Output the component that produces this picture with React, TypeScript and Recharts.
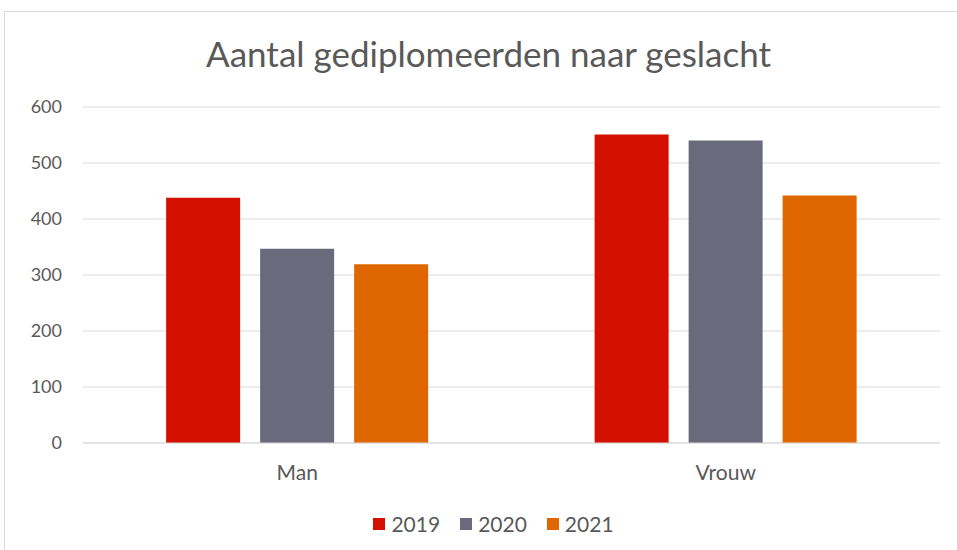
import React from 'react';
import { BarChart, Bar, XAxis, YAxis, CartesianGrid, Legend } from 'recharts';

const categories = ['Man', 'Vrouw'];
const years = ['2019', '2020', '2021'];
const values2019 = [438, 551];
const values2020 = [347, 540];
const values2021 = [319, 442];
const yTicks = [0, 100, 200, 300, 400, 500, 600];
const colors = ['#D41100', '#6B6A7C', '#E06700'];

const data = categories.map((name, i) => ({
  name,
  '2019': values2019[i],
  '2020': values2020[i],
  '2021': values2021[i],
}));

const FONT = 'Lato, "Open Sans", sans-serif';

const LegendContent = () => (
  <div style={{ display: 'flex', justifyContent: 'center', gap: 20, paddingLeft: 24, fontFamily: FONT, fontSize: 21, color: '#595959', height: 23, alignItems: 'center' }}>
    {years.map((y, i) => (
      <span key={y} style={{ display: 'flex', alignItems: 'center', gap: 6 }}>
        <span style={{ width: 12, height: 12, background: colors[i], display: 'inline-block' }} />
        {y}
      </span>
    ))}
  </div>
);

export default function App() {
  return (
    <div style={{ position: 'absolute', left: 0, top: 0, width: 957, height: 550, background: '#fff', overflow: 'hidden' }}>
      <div style={{ position: 'absolute', left: 4, top: 11, width: 970, height: 560, border: '1.5px solid #d9d9d9', boxSizing: 'border-box' }} />
      <div style={{ position: 'absolute', left: 0, top: 32, width: 977, textAlign: 'center', fontFamily: FONT, fontSize: 35, color: '#595959' }}>
        Aantal gediplomeerden naar geslacht
      </div>
      <div style={{ position: 'absolute', left: 0, top: 0 }}>
        <BarChart width={957} height={550} data={data} margin={{ top: 107, right: 17, bottom: 15, left: 23 }} barGap={20} barCategoryGap="19.4%">
          <CartesianGrid vertical={false} stroke="#d9d9d9" />
          <XAxis dataKey="name" height={69} axisLine={{ stroke: '#d9d9d9' }} tickLine={false} tickMargin={16} tick={{ fill: '#595959', fontSize: 21, fontFamily: FONT }} />
          <YAxis domain={[0, 600]} ticks={yTicks} width={60} axisLine={false} tickLine={false} tickMargin={15} tick={{ fill: '#595959', fontSize: 18, fontFamily: FONT }} />
          <Legend verticalAlign="bottom" content={<LegendContent />} />
          {years.map((y, i) => (
            <Bar key={y} dataKey={y} fill={colors[i]} isAnimationActive={false} />
          ))}
        </BarChart>
      </div>
    </div>
  );
}
